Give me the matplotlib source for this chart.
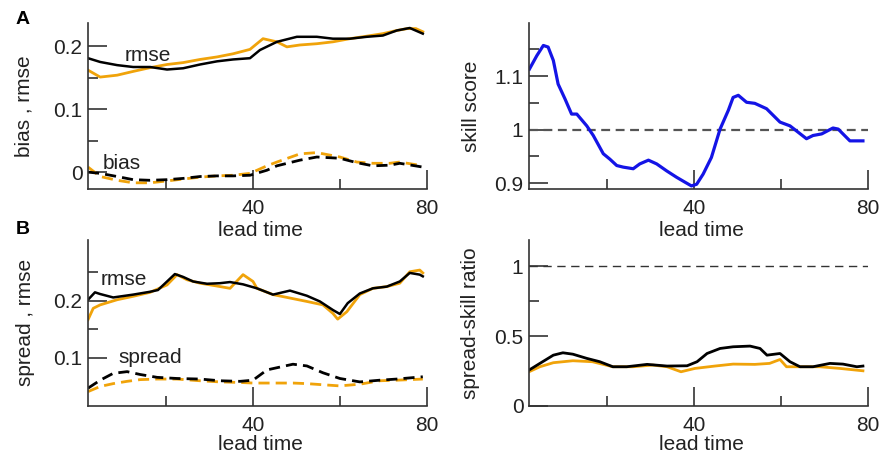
import matplotlib
matplotlib.use('Agg')
import matplotlib.pyplot as plt
from matplotlib.ticker import FixedLocator

plt.rcParams['font.family'] = ['Liberation Sans', 'DejaVu Sans']

ORANGE = '#f0a30a'
INK = '#222222'

# panel A, left: rmse (solid) and bias (dashed)
rmse_a_t = [2, 4.8, 8.7, 12.4, 16.3, 20.2, 23.9, 27.8, 31.7, 35.4, 39.3, 41.6, 45.5, 50.1,
            54.7, 58.4, 62.3, 66.2, 69.9, 73.1, 76.1, 79.1]
rmse_a_black = [0.181, 0.175, 0.170, 0.167, 0.167, 0.163, 0.165, 0.171, 0.176, 0.179, 0.181,
                0.194, 0.207, 0.215, 0.215, 0.212, 0.212, 0.215, 0.217, 0.225, 0.229, 0.220]
rmse_a_orange_t = [2, 4.8, 8.7, 12.4, 16.3, 20.2, 23.9, 27.8, 31.7, 35.4, 39.3, 42.3, 45.5,
                   47.8, 50.8, 54.7, 58.4, 62.3, 66.2, 69.9, 73.1, 75.5, 77.5, 79.1]
rmse_a_orange = [0.162, 0.151, 0.154, 0.160, 0.166, 0.171, 0.174, 0.179, 0.183, 0.188, 0.195,
                 0.212, 0.207, 0.199, 0.202, 0.204, 0.207, 0.212, 0.216, 0.220, 0.225, 0.228,
                 0.228, 0.223]
bias_a_t = [2, 4.8, 8.7, 12.4, 16.3, 20.2, 23.9, 27.8, 31.7, 35.4, 39.3, 43.2, 45.5, 50.8,
            54.7, 60.0, 63.9, 67.6, 71.5, 73.8, 79.1]
bias_a_black = [0.000, -0.002, -0.007, -0.012, -0.013, -0.012, -0.010, -0.007, -0.006, -0.006,
                -0.005, 0.003, 0.010, 0.019, 0.024, 0.022, 0.015, 0.010, 0.011, 0.014, 0.008]
bias_a_orange = [0.008, -0.007, -0.013, -0.017, -0.017, -0.014, -0.011, -0.008, -0.006, -0.005,
                 -0.002, 0.010, 0.016, 0.029, 0.031, 0.024, 0.016, 0.014, 0.014, 0.016, 0.010]

# panel A, right: skill score
skill_t = [2.1, 3.8, 5.3, 6.4, 7.6, 8.7, 10.3, 11.8, 13.0, 15.3, 16.8, 19.1, 20.6, 22.2, 23.7,
           26.0, 27.5, 29.5, 31.4, 33.7, 36.0, 37.9, 39.4, 40.6, 42.1, 44.0, 46.0, 47.9, 49.0,
           50.2, 52.1, 54.0, 56.7, 59.8, 62.1, 64.0, 65.9, 67.4, 69.4, 72.0, 73.2, 74.3, 75.9,
           78.9]
skill = [1.113, 1.138, 1.157, 1.154, 1.129, 1.085, 1.057, 1.029, 1.029, 1.007, 0.989, 0.955,
         0.945, 0.933, 0.930, 0.927, 0.936, 0.943, 0.936, 0.923, 0.911, 0.902, 0.895, 0.898,
         0.917, 0.948, 1.001, 1.036, 1.060, 1.064, 1.051, 1.049, 1.039, 1.014, 1.007, 0.995,
         0.983, 0.989, 0.992, 1.003, 1.001, 0.992, 0.979, 0.979]

# panel B, left: rmse (solid) and spread (dashed)
rmse_b_black_t = [2, 3.6, 4.8, 7.8, 12.4, 16.3, 18.1, 20.2, 22.0, 23.9, 26.2, 29.4, 32.4, 34.7,
                  37.7, 40.9, 44.6, 48.5, 52.4, 55.4, 58.4, 60.0, 61.8, 64.6, 67.6, 70.8,
                  73.8, 76.1, 78.4, 79.1]
rmse_b_black = [0.202, 0.215, 0.212, 0.206, 0.211, 0.216, 0.219, 0.234, 0.247, 0.242, 0.234,
                0.230, 0.231, 0.233, 0.229, 0.222, 0.211, 0.218, 0.209, 0.199, 0.184, 0.177,
                0.196, 0.213, 0.222, 0.225, 0.234, 0.249, 0.246, 0.243]
rmse_b_orange_t = [2, 3.2, 4.8, 8.7, 12.4, 16.3, 20.2, 22.5, 24.8, 27.8, 31.7, 34.7, 37.7,
                   40.0, 40.9, 44.6, 48.5, 52.4, 56.1, 58.4, 59.5, 61.6, 64.6, 67.6, 70.8,
                   73.8, 76.1, 78.4, 79.1]
rmse_b_orange = [0.167, 0.187, 0.193, 0.202, 0.208, 0.215, 0.228, 0.246, 0.237, 0.231, 0.226,
                 0.222, 0.246, 0.234, 0.222, 0.211, 0.205, 0.199, 0.193, 0.178, 0.168, 0.181,
                 0.211, 0.222, 0.225, 0.231, 0.251, 0.254, 0.249]
spread_b_t = [2, 4.8, 7.8, 11.0, 14.0, 17.9, 22.5, 27.8, 32.4, 37.0, 40.0, 43.2, 49.2, 52.4,
              56.1, 60.0, 64.6, 69.2, 73.1, 79.1]
spread_b_black = [0.047, 0.061, 0.073, 0.076, 0.071, 0.066, 0.064, 0.063, 0.060, 0.059, 0.061,
                  0.079, 0.089, 0.086, 0.074, 0.064, 0.058, 0.061, 0.063, 0.067]
spread_b_orange = [0.041, 0.050, 0.055, 0.059, 0.062, 0.063, 0.063, 0.060, 0.058, 0.057, 0.056,
                   0.056, 0.056, 0.055, 0.053, 0.051, 0.054, 0.060, 0.061, 0.063]

# panel B, right: spread-skill ratio
ratio_t = [2.0, 4.5, 7.6, 9.8, 12.1, 15.3, 18.3, 21.3, 24.5, 29.2, 33.8, 38.4, 40.7, 43.0, 46.0,
           49.0, 52.9, 55.2, 56.8, 59.8, 62.1, 64.4, 67.4, 71.3, 74.3, 77.5, 78.9]
ratio_black = [0.257, 0.305, 0.364, 0.381, 0.371, 0.341, 0.317, 0.281, 0.281, 0.298, 0.286,
               0.288, 0.317, 0.376, 0.412, 0.424, 0.429, 0.412, 0.364, 0.376, 0.317, 0.281,
               0.281, 0.305, 0.300, 0.281, 0.286]
ratio_orange_t = [2.0, 4.5, 7.6, 12.1, 16.6, 21.3, 25.9, 30.5, 33.8, 37.0, 40.2, 44.8, 49.0,
                  54.0, 57.4, 59.8, 61.3, 64.4, 69.0, 73.6, 78.9]
ratio_orange = [0.245, 0.281, 0.310, 0.324, 0.317, 0.281, 0.281, 0.293, 0.281, 0.245, 0.269,
                0.286, 0.300, 0.298, 0.305, 0.333, 0.281, 0.281, 0.281, 0.269, 0.252]


def style(ax, ylim, major, minor, ylabel, ylab_x, xlab_y):
    ax.set_facecolor('none')
    ax.set_xlim(2, 80)
    ax.set_ylim(*ylim)
    for s in ['top', 'right']:
        ax.spines[s].set_visible(False)
    for s in ['left', 'bottom']:
        ax.spines[s].set_linewidth(1.2)
        ax.spines[s].set_color('#333333')
    ax.xaxis.set_major_locator(FixedLocator([40, 80]))
    ax.xaxis.set_minor_locator(FixedLocator([20, 60]))
    ax.yaxis.set_major_locator(FixedLocator(major))
    ax.yaxis.set_minor_locator(FixedLocator(minor))
    ax.set_yticklabels([('%g' % v) for v in major])
    ax.tick_params(which='major', direction='in', length=13.5, width=1.2, color='#333333',
                   labelsize=15, labelcolor=INK)
    ax.tick_params(which='minor', direction='in', length=7, width=1.2, color='#333333')
    ax.tick_params(axis='y', pad=4)
    ax.tick_params(axis='x', pad=7)
    ax.set_xlabel('lead time', fontsize=15, color=INK)
    ax.set_ylabel(ylabel, fontsize=15, color=INK)
    ax.yaxis.set_label_coords(ylab_x, 0.5)
    ax.xaxis.set_label_coords(0.51, xlab_y)


fig = plt.figure(figsize=(8.82, 4.59), dpi=100)
w, h = 0.384, 0.362
ax1 = fig.add_axes([0.0998, 0.588, w, h])
ax2 = fig.add_axes([0.5998, 0.588, w, h])
ax3 = fig.add_axes([0.0998, 0.1155, w, h])
ax4 = fig.add_axes([0.5998, 0.1155, w, h])

dash = dict(linestyle=(0, (4, 2.2)), linewidth=2.0)

ax1.plot(rmse_a_orange_t, rmse_a_orange, color=ORANGE, lw=2.0)
ax1.plot(rmse_a_t, rmse_a_black, color='black', lw=1.8)
ax1.plot(bias_a_t, bias_a_orange, color=ORANGE, **dash)
ax1.plot(bias_a_t, bias_a_black, color='black', **dash)
ax1.text(10.5, 0.186, 'rmse', fontsize=15, color=INK, va='center')
ax1.text(5.4, 0.014, 'bias', fontsize=15, color=INK, va='center')
style(ax1, (-0.027, 0.237), [0, 0.1, 0.2], [0.05, 0.15], 'bias , rmse', -0.16, -0.19)

ax2.axhline(1, color='#555555', lw=1.6, linestyle=(0, (4, 2.5)))
ax2.plot(skill_t, skill, color='#1414e6', lw=2.3)
style(ax2, (0.889, 1.199), [0.9, 1.0, 1.1], [0.95, 1.05, 1.15], 'skill score', -0.142, -0.19)

ax3.plot(rmse_b_orange_t, rmse_b_orange, color=ORANGE, lw=2.0)
ax3.plot(rmse_b_black_t, rmse_b_black, color='black', lw=1.8)
ax3.plot(spread_b_t, spread_b_orange, color=ORANGE, **dash)
ax3.plot(spread_b_t, spread_b_black, color='black', **dash)
ax3.text(4.8, 0.237, 'rmse', fontsize=15, color=INK, va='center')
ax3.text(8.9, 0.101, 'spread', fontsize=15, color=INK, va='center')
style(ax3, (0.0158, 0.307), [0.1, 0.2], [0.15, 0.25], 'spread , rmse', -0.156, -0.172)

ax4.axhline(1, color='#333333', lw=1.0, linestyle=(0, (6, 4)))
ax4.plot(ratio_orange_t, ratio_orange, color=ORANGE, lw=2.0)
ax4.plot(ratio_t, ratio_black, color='black', lw=2.0)
style(ax4, (0, 1.19), [0, 0.5, 1], [0.75], 'spread-skill ratio', -0.145, -0.172)

fig.text(0.018, 0.957, 'A', fontsize=14, fontweight='bold', va='center')
fig.text(0.018, 0.500, 'B', fontsize=14, fontweight='bold', va='center')

fig.savefig('out.png', dpi=100)
